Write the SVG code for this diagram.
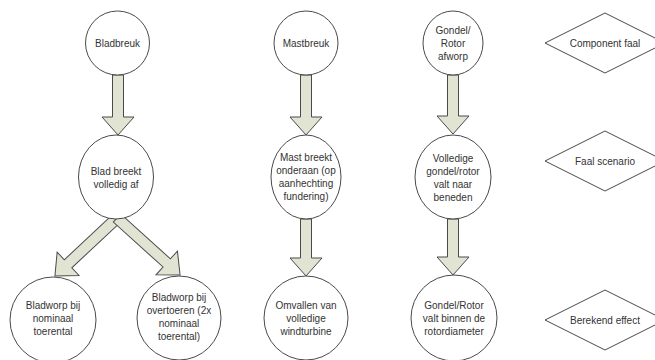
<svg xmlns="http://www.w3.org/2000/svg" width="655" height="360" viewBox="0 0 655 360">
<style>
.n{fill:#fff;stroke:#4a4a4a;stroke-width:1}
.t{font-family:"Liberation Sans",Arial,sans-serif;font-size:10px;fill:#333;text-anchor:middle}
.a{fill:#e1e3d3;stroke:#4a4a4a;stroke-width:1}
</style>
<defs>
<path id="ar" d="M-5.5,0 H5.5 V-18 H16 L0,0 L-16,-18 H-5.5 Z"/>
</defs>
<rect width="655" height="360" fill="#fff"/>
<g id="connectors">
<path class="a" d="M112.5,75 H123.5 V117 H134 L118,135 L102,117 H112.5 Z"/>
<path class="a" d="M300.5,75 H311.5 V117 H322 L306,135 L290,117 H300.5 Z"/>
<path class="a" d="M447.5,75 H458.5 V116 H469 L453,134 L437,116 H447.5 Z"/>
<path class="a" d="M300.5,219 H311.5 V258 H322 L306,276 L290,258 H300.5 Z"/>
<path class="a" d="M447.5,219 H458.5 V257 H469 L453,275 L437,257 H447.5 Z"/>
<path class="a" transform="translate(117,218) rotate(46.9)" d="M-5.5,0 H5.5 V67 H16 L0,85 L-16,67 H-5.5 Z"/>
<path class="a" transform="translate(117,218) rotate(-47.9)" d="M-5.5,0 H5.5 V67 H16 L0,85 L-16,67 H-5.5 Z"/>
</g>
<g id="bladbreuk"><circle class="n" cx="117.5" cy="43" r="32"/><text class="t" x="117.5" y="46.5">Bladbreuk</text></g>
<g id="blad-breekt"><ellipse class="n" cx="116" cy="177" rx="37.5" ry="42"/><text class="t" x="116" y="174.5">Blad breekt</text><text class="t" x="116" y="187.5">volledig af</text></g>
<g id="bladworp-nominaal"><circle class="n" cx="53" cy="320" r="43"/><text class="t" x="53" y="309">Bladworp bij</text><text class="t" x="53" y="322">nominaal</text><text class="t" x="53" y="335">toerental</text></g>
<g id="bladworp-overtoeren"><circle class="n" cx="179" cy="318" r="42"/><text class="t" x="179" y="301">Bladworp bij</text><text class="t" x="179" y="314">overtoeren (2x</text><text class="t" x="179" y="327">nominaal</text><text class="t" x="179" y="340">toerental)</text></g>
<g id="mastbreuk"><circle class="n" cx="306" cy="43" r="32"/><text class="t" x="306" y="46.5">Mastbreuk</text></g>
<g id="mast-breekt"><ellipse class="n" cx="306" cy="177" rx="35" ry="42"/><text class="t" x="306" y="161">Mast breekt</text><text class="t" x="306" y="174">onderaan (op</text><text class="t" x="306" y="187">aanhechting</text><text class="t" x="306" y="200">fundering)</text></g>
<g id="omvallen"><circle class="n" cx="306" cy="318" r="42"/><text class="t" x="306" y="309">Omvallen van</text><text class="t" x="306" y="322">volledige</text><text class="t" x="306" y="335">windturbine</text></g>
<g id="gondel-afworp"><ellipse class="n" cx="453" cy="43" rx="30" ry="32"/><text class="t" x="453" y="33.5">Gondel/</text><text class="t" x="453" y="46.5">Rotor</text><text class="t" x="453" y="59.5">afworp</text></g>
<g id="gondel-valt"><ellipse class="n" cx="453" cy="177" rx="38" ry="42"/><text class="t" x="453" y="162">Volledige</text><text class="t" x="453" y="175">gondel/rotor</text><text class="t" x="453" y="188">valt naar</text><text class="t" x="453" y="201">beneden</text></g>
<g id="gondel-binnen"><circle class="n" cx="454" cy="318" r="43"/><text class="t" x="454" y="309">Gondel/Rotor</text><text class="t" x="454" y="322">valt binnen de</text><text class="t" x="454" y="335">rotordiameter</text></g>
<g id="legend-component"><path class="n" d="M545,43 L605,13 L665,43 L605,73 Z"/><text class="t" x="605" y="46.5">Component faal</text></g>
<g id="legend-scenario"><path class="n" d="M545,161 L605,131 L665,161 L605,191 Z"/><text class="t" x="605" y="164.5">Faal scenario</text></g>
<g id="legend-effect"><path class="n" d="M545,320 L605,290 L665,320 L605,350 Z"/><text class="t" x="605" y="323.5">Berekend effect</text></g>
</svg>
